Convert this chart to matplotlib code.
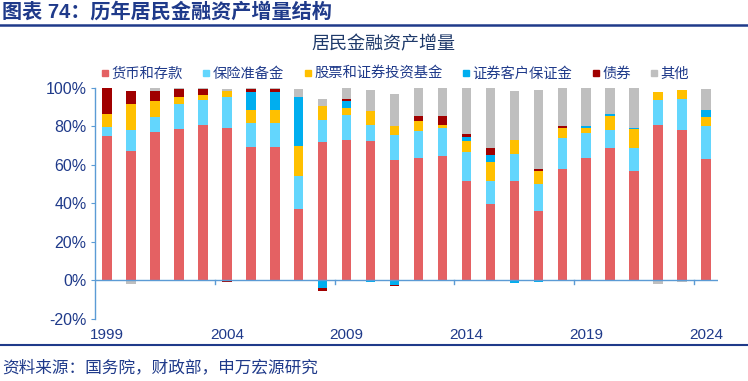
import matplotlib
matplotlib.use("Agg")
import matplotlib.pyplot as plt
import numpy as np
from matplotlib.lines import Line2D

plt.rcParams['font.family'] = ['Liberation Sans', 'Noto Sans CJK SC', 'DejaVu Sans']

years = list(range(1999, 2025))
series_names = ["货币和存款", "保险准备金", "股票和证券投资基金", "证券客户保证金", "债券", "其他"]
colors = ["#E46163", "#63D6FD", "#FFC000", "#00AEEF", "#A00000", "#BFBFBF"]

deposits = [75.0, 67.4, 76.9, 78.9, 80.7, 79.1, 69.3, 69.3, 37.0, 71.7, 72.9, 72.4, 62.7,
            63.6, 64.9, 51.6, 39.9, 51.8, 35.9, 57.9, 63.4, 68.6, 56.8, 81.0, 78.4, 62.9]
insurance = [4.6, 11.0, 8.2, 13.0, 13.1, 16.1, 12.7, 12.7, 17.4, 11.6, 13.3, 8.3, 13.1,
             13.8, 14.5, 14.9, 11.7, 14.0, 14.0, 16.2, 13.1, 9.6, 11.9, 12.6, 15.9, 17.2]
stocks = [7.1, 13.5, 8.0, 3.3, 2.7, 3.4, 6.4, 6.4, 15.7, 7.4, 3.4, 7.4, 4.7,
          5.2, 1.4, 5.7, 10.1, 7.1, 6.9, 5.3, 2.8, 7.3, 9.9, 4.2, 4.7, 4.9]
margin = [0.0, 0.0, 0.0, 0.0, 0.0, 0.0, 9.7, 9.7, 25.4, -4.1, 3.5, -1.0, -2.4,
          0.0, 0.0, 2.2, 3.4, -1.5, -1.0, 0.0, 1.0, 0.9, 0.5, 0.0, 0.0, 3.4]
bonds = [13.3, 6.4, 5.5, 4.5, 3.0, -0.7, 1.2, 1.2, 0.0, -1.2, 1.2, 0.0, -0.7,
         2.8, 4.5, 1.6, 3.8, 0.0, 1.1, 0.9, 0.0, 0.0, 0.0, 0.0, 0.0, -0.3]
other = [0.0, -1.7, 1.4, 0.3, 0.5, 0.7, 0.7, 0.7, 4.0, 3.8, 5.7, 10.9, 16.4,
         14.7, 14.7, 24.0, 31.1, 25.4, 41.1, 19.7, 19.7, 13.6, 20.9, -2.1, -1.0, 11.1]

data = [deposits, insurance, stocks, margin, bonds, other]
ytick_vals = [-20, 0, 20, 40, 60, 80, 100]
xtick_years = [1999, 2004, 2009, 2014, 2019, 2024]

navy = "#1F3A8A"
axis_blue = "#5B9BD5"

fig = plt.figure(figsize=(7.48, 3.81), dpi=100)
ax = fig.add_axes([0.127, 0.163, 0.833, 0.606])

x = np.arange(len(years))
pos_base = np.zeros(len(years))
neg_base = np.zeros(len(years))
for vals, c, name in zip(data, colors, series_names):
    v = np.array(vals, dtype=float)
    pos = np.where(v > 0, v, 0)
    neg = np.where(v < 0, v, 0)
    ax.bar(x, pos, bottom=pos_base, width=0.4, color=c, label=name, zorder=2)
    ax.bar(x, neg, bottom=neg_base, width=0.4, color=c, zorder=2)
    pos_base += pos
    neg_base += neg

ax.set_xlim(-0.5, len(years) - 0.5)
ax.set_ylim(-20, 100)
ax.set_yticks(ytick_vals)
ax.set_yticklabels([f"{v}%" for v in ytick_vals], color=navy, fontsize=11.5)
ax.tick_params(axis='y', length=3, color=axis_blue, pad=3)

for s in ['top', 'right', 'bottom']:
    ax.spines[s].set_visible(False)
ax.spines['left'].set_color(axis_blue)
ax.spines['left'].set_linewidth(1.0)
ax.axhline(0, color=axis_blue, lw=1.0, zorder=3)

ax.set_xticks([])
# tick marks at category boundaries on the zero line
for yr in xtick_years[1:]:
    b = years.index(yr) - 0.5
    ax.plot([b, b], [0, -2], color=axis_blue, lw=1.0, clip_on=False, zorder=3)
for yr in xtick_years:
    ax.text(years.index(yr), -28.5, str(yr), ha='center', va='center', color=navy, fontsize=11)

handles = [Line2D([], [], marker='s', linestyle='none', markersize=5,
                  markerfacecolor=c, markeredgecolor=c) for c in colors]
fig.legend(handles, series_names, loc='center', bbox_to_anchor=(0.528, 1 - 74 / 381),
           ncol=6, frameon=False, fontsize=10.3, labelcolor=navy,
           handletextpad=0.15, columnspacing=1.35, handlelength=0.6)

fig.text(383 / 748, 1 - 45 / 381, "居民金融资产增量", ha='center', va='center',
         fontsize=13, color="#1F3A6A")

fig.text(0.003, 1 - 12 / 381, "图表 74：历年居民金融资产增量结构", ha='left', va='center',
         fontsize=14.5, fontweight='bold', color=navy)
fig.add_artist(Line2D([0, 1], [1 - 25 / 381, 1 - 25 / 381], color=navy, lw=1.8))
fig.add_artist(Line2D([0, 1], [1 - 345 / 381, 1 - 345 / 381], color=navy, lw=1.5))
fig.text(0.003, 1 - 367 / 381, "资料来源：国务院，财政部，申万宏源研究", ha='left', va='center',
         fontsize=12, color=navy)

fig.savefig("out.png", dpi=100)
